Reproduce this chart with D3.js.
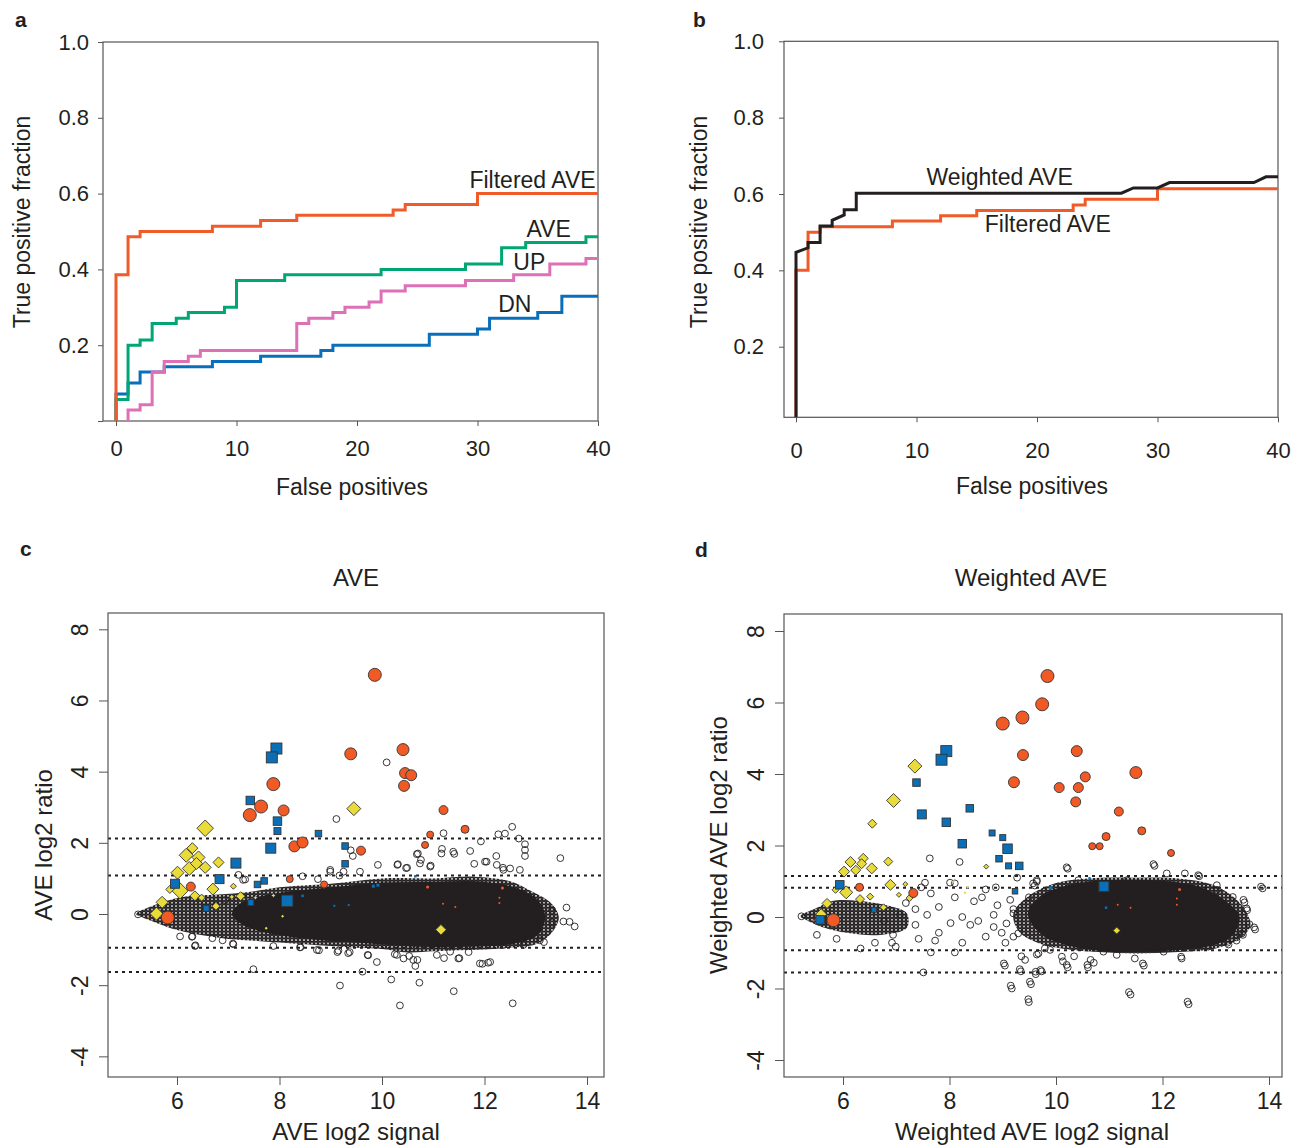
<!DOCTYPE html>
<html>
<head>
<meta charset="utf-8">
<script src="https://cdn.jsdelivr.net/npm/d3@7"></script>
<style>
  body { margin: 0; background: #fff; }
  svg text { font-family: "Liberation Sans", Arial, sans-serif; fill: #231f20; }
</style>
</head>
<body>
<div id="container"></div>
<script>
// ---- panel a: ROC steps (false positives vs true positive fraction)
var filtA_fp  = [0, 0, 1, 2, 8, 12, 15, 23, 24, 30, 40];
var filtA_tpf = [0, 0.386, 0.486, 0.500, 0.514, 0.529, 0.543, 0.557, 0.571, 0.600, 0.600];
var aveA_fp  = [0, 0, 1, 2, 3, 5, 6, 9, 10, 14, 22, 29, 32, 34, 39, 40];
var aveA_tpf = [0, 0.057, 0.200, 0.214, 0.257, 0.271, 0.286, 0.300, 0.371, 0.386, 0.400, 0.414, 0.457, 0.471, 0.486, 0.486];
var upA_fp  = [1, 1, 2, 3, 4, 6, 7, 15, 16, 18, 19, 21, 22, 24, 29, 33, 36, 39, 40];
var upA_tpf = [0, 0.029, 0.043, 0.129, 0.157, 0.171, 0.186, 0.257, 0.271, 0.286, 0.300, 0.314, 0.343, 0.357, 0.371, 0.386, 0.414, 0.429, 0.429];
var dnA_fp  = [0, 0, 1, 2, 4, 8, 12, 17, 18, 26, 30, 31, 35, 37, 40];
var dnA_tpf = [0, 0.071, 0.100, 0.129, 0.143, 0.157, 0.171, 0.186, 0.200, 0.229, 0.243, 0.271, 0.286, 0.329, 0.329];

// ---- panel b
var filtB_fp  = [0, 0, 1, 2, 8, 12, 15, 23, 24, 30, 40];
var filtB_tpf = [0.015, 0.400, 0.500, 0.514, 0.529, 0.543, 0.557, 0.571, 0.586, 0.614, 0.614];
var wAveB_fp  = [0, 0, 1, 1, 2, 2, 3, 3, 4, 4, 5, 5, 27, 28, 30, 31, 38, 39, 40];
var wAveB_tpf = [0.015, 0.447, 0.459, 0.473, 0.473, 0.516, 0.516, 0.531, 0.545, 0.559, 0.559, 0.602, 0.602, 0.616, 0.616, 0.630, 0.630, 0.645, 0.645];

var rocXTicks = [0, 10, 20, 30, 40];
var rocYTicksA = [0, 0.2, 0.4, 0.6, 0.8, 1.0];
var rocYTicksB = [0.2, 0.4, 0.6, 0.8, 1.0];
var maXTicks = [6, 8, 10, 12, 14];
var maYTicks = [-4, -2, 0, 2, 4, 6, 8];

// ---- panel c: AVE MA plot  [signal, log2 ratio, cex]
var cOrange = [[9.86,6.72,1.3],[9.39,4.50,1.2],[10.41,4.62,1.2],[10.45,3.96,1.1],[10.57,3.90,1.1],[10.43,3.60,1.1],
  [7.88,3.65,1.3],[7.64,3.02,1.3],[7.42,2.78,1.3],[8.08,2.91,1.1],[8.29,1.90,1.1],[8.45,2.01,1.1],[9.59,1.78,0.9],
  [11.20,2.92,0.9],[11.62,2.38,0.8],[10.94,2.23,0.7],[10.84,1.94,0.7],[8.20,0.98,0.7],[8.87,0.83,0.7],[6.27,0.77,0.9],
  [5.82,-0.10,1.3],[11.19,0.29,0.2],[11.43,0.20,0.2],[12.29,0.31,0.2],[12.29,0.46,0.2],[12.35,0.73,0.3],[10.89,0.76,0.3],[5.44,-0.10,0.2]];
var cBlue = [[7.94,4.65,1.1],[7.85,4.40,1.1],[7.43,3.19,0.85],[7.96,2.61,0.85],[7.96,2.33,0.7],[7.83,1.85,1.0],
  [8.76,2.26,0.65],[9.28,1.91,0.65],[9.28,1.41,0.65],[7.15,1.43,1.0],[6.83,0.98,0.9],[5.96,0.85,0.9],[7.70,0.93,0.65],
  [7.57,0.83,0.65],[8.15,0.37,1.15],[7.44,0.32,0.6],[6.57,0.16,0.6],
  [8.45,0.51,0.25],[9.07,0.23,0.2],[9.35,0.25,0.2],[9.83,0.78,0.3],[9.92,0.81,0.3],[10.65,1.06,0.25]];
var cYellow = [[6.55,2.41,1.65],[9.45,2.96,1.4],[6.30,1.85,1.1],[6.18,1.65,1.4],[6.42,1.59,1.3],[6.24,1.28,1.4],
  [6.38,1.42,1.2],[6.55,1.31,1.2],[6.81,1.45,1.1],[6.01,1.16,1.3],[6.06,0.65,1.6],[6.70,0.70,1.2],[5.86,0.69,0.8],
  [6.35,0.51,1.0],[6.48,0.46,0.7],[5.71,0.33,1.2],[5.60,0.01,1.3],[6.76,0.22,0.8],[7.10,0.78,0.6],[7.24,0.50,0.9],
  [7.07,0.48,0.5],[7.53,0.46,0.4],[7.88,0.52,0.4],[11.15,-0.44,1.05],[8.06,-0.06,0.3],[7.74,-0.40,0.3]];
var cOpen = [[10.09,4.26],[9.11,2.67],[11.20,2.27],[12.54,2.45],[12.40,2.26],[12.27,2.24],[12.67,2.12],[11.93,2.04],
  [12.79,1.96],[12.79,1.80],[12.79,1.63],[13.48,1.57],[9.39,1.79],[9.43,1.63],[10.70,1.70],[10.76,1.52],[11.17,1.83],
  [11.41,1.69],[11.72,1.77],[12.23,1.63],[11.80,1.41],[9.92,1.38],[10.30,1.38],[10.49,1.30],[10.95,1.36],[12.04,1.47],
  [12.36,1.30],[8.99,1.19],[9.17,1.08],[7.20,1.10],[7.33,0.97],[8.45,1.06],[9.57,1.19],[7.49,-1.55],[9.62,-1.62],
  [9.18,-2.01],[10.18,-1.84],[10.73,-1.93],[11.40,-2.17],[10.35,-2.57],[12.55,-2.51],[9.90,-1.35],[9.73,-1.16],
  [11.96,-1.40],[12.11,-1.35],[10.65,-1.46],[10.69,-1.29],[10.53,-1.18],[10.25,-1.13],[11.21,-1.24],[11.51,-1.24],
  [11.69,-1.07],[8.77,-1.02],[9.13,-1.07],[9.37,-1.07],[8.41,-0.93],[7.09,-0.83],[6.36,-0.88],[6.06,-0.63],[6.30,-0.63],
  [6.69,-0.68],[6.89,-0.74],[13.60,0.18],[13.32,-0.24],[13.54,-0.21],[13.66,-0.22],[13.76,-0.35],[13.32,0.11],
  [13.08,-0.74],[13.16,-0.79],[10.31,1.40],[10.47,1.29],[8.75,0.98],[9.25,1.19],[10.68,1.68],[10.74,1.42],[10.94,1.33],
  [11.16,1.70],[11.39,1.75],[12.01,1.47],[12.24,1.38],[12.37,1.24],[12.50,1.28],[12.69,1.24],[7.88,-0.90],[8.40,-0.94],
  [8.73,-1.01],[9.15,-1.03],[9.34,-1.10],[9.72,-1.15],[10.29,-1.15],[10.42,-1.25],[10.61,-1.29],[11.07,-1.15],
  [11.33,-1.06],[11.49,-1.25],[11.91,-1.39],[12.07,-1.37],[12.37,-0.87],[12.76,-0.87],[5.24,-0.01],[6.29,-0.64],
  [6.35,-0.90],[7.10,-0.85],[7.29,0.96],[6.94,0.39],[8.99,1.24]];
// outline of the dense cloud (overlapping circles) and its solid core
var cCloud = [[5.2,0.0],[5.5,0.22],[6.1,0.48],[6.8,0.55],[7.4,0.62],[8.0,0.75],[9.0,0.85],[10.0,1.0],[11.0,1.0],
  [11.8,1.05],[12.5,0.92],[12.9,0.65],[13.3,0.3],[13.45,-0.1],[13.3,-0.55],[13.0,-0.85],[12.5,-0.95],[12.0,-1.0],
  [11.5,-1.02],[11.0,-1.05],[10.5,-1.08],[10.0,-0.98],[9.5,-0.95],[9.0,-0.9],[8.5,-0.85],[8.0,-0.8],[7.5,-0.75],
  [7.0,-0.7],[6.5,-0.6],[6.0,-0.45],[5.6,-0.25],[5.3,-0.08]];
var cCore = [[7.3,0.3],[8.0,0.55],[9.0,0.7],[10.0,0.84],[11.0,0.86],[11.8,0.88],[12.5,0.74],[12.95,0.45],[13.15,0.0],
  [13.05,-0.52],[12.6,-0.78],[11.7,-0.88],[10.7,-0.88],[9.7,-0.78],[8.7,-0.68],[7.8,-0.5],[7.3,-0.27],[7.1,0.0]];
var cCutoffs = [2.12, 1.08, -0.95, -1.63];

// ---- panel d: Weighted AVE MA plot
var dOrange = [[9.84,6.74,1.3],[9.74,5.95,1.3],[9.37,5.58,1.3],[9.00,5.41,1.3],[9.38,4.53,1.1],[10.39,4.64,1.1],
  [9.21,3.77,1.1],[10.06,3.62,1.0],[10.42,3.62,1.0],[10.55,3.92,1.0],[10.37,3.22,1.0],[11.50,4.04,1.2],[11.18,2.95,0.9],
  [11.61,2.41,0.8],[10.94,2.25,0.8],[10.68,1.98,0.7],[10.82,1.98,0.7],[12.16,1.79,0.7],[6.31,0.83,0.8],[7.32,0.67,0.9],
  [5.82,-0.09,1.3],[11.16,0.34,0.2],[11.40,0.26,0.2],[12.27,0.34,0.2],[12.27,0.52,0.2],[12.32,0.77,0.3],[5.45,-0.10,0.2]];
var dBlue = [[7.94,4.64,1.1],[7.85,4.40,1.1],[7.38,3.76,0.75],[7.48,2.87,0.9],[7.94,2.65,0.85],[8.38,3.04,0.75],
  [8.24,2.05,0.85],[8.80,2.35,0.6],[9.00,2.22,0.6],[9.09,1.91,0.95],[8.93,1.63,0.65],[9.11,1.43,0.6],[9.31,1.43,0.75],
  [5.94,0.90,0.85],[9.23,0.72,0.55],[6.58,0.20,0.5],[5.57,-0.08,0.85],[10.90,0.85,1.0],
  [9.90,0.81,0.35],[10.63,1.08,0.25],[10.94,0.26,0.25]];
var dYellow = [[7.35,4.22,1.4],[6.95,3.26,1.4],[6.55,2.61,0.9],[6.14,1.54,1.1],[6.38,1.64,1.0],[6.35,1.49,1.0],
  [6.24,1.31,1.0],[6.02,1.27,1.1],[6.54,1.36,1.1],[6.85,1.55,0.9],[6.06,0.69,1.3],[6.89,0.90,1.1],[5.86,0.76,0.7],
  [6.32,0.50,0.9],[6.51,0.57,0.7],[5.70,0.38,1.0],[5.59,0.08,1.1],[6.76,0.27,0.7],[7.17,0.92,0.5],[7.05,0.62,0.5],
  [7.25,0.53,0.7],[8.69,1.41,0.5],[8.07,0.99,0.3],[8.29,0.68,0.3],[8.34,0.83,0.3],[11.14,-0.38,0.7]];
var dOpen = [[7.63,1.64],[8.19,1.54],[10.22,1.35],[11.85,1.43],[12.69,1.14],[13.88,0.80],[13.54,0.41],[13.59,0.19],
  [13.32,0.56],[13.63,-0.20],[13.74,-0.35],[13.51,-0.50],[13.39,-0.66],[13.24,-0.77],[7.51,-1.55],[9.04,-1.36],
  [9.17,-2.00],[9.49,-2.38],[9.53,-1.88],[9.34,-1.52],[9.62,-1.60],[9.73,-1.52],[10.22,-1.41],[10.60,-1.41],
  [11.40,-2.17],[12.49,-2.44],[11.65,-1.36],[12.36,-1.16],[10.71,-1.28],[10.13,-1.24],[10.34,-1.10],[9.35,-1.10],
  [9.64,-1.05],[9.79,-0.88],[7.65,-0.99],[8.10,-0.99],[6.99,-0.83],[6.33,-0.88],[5.51,-0.50],[5.88,-0.61],[6.60,-0.72],
  [6.92,-0.72],[6.94,-0.50],[9.20,-0.55],[8.98,-0.44],[8.68,-0.55],[8.24,-0.72],[7.42,-0.61],[7.36,-0.22],[7.80,-0.44],
  [8.02,-0.17],[8.24,0.0],[8.54,-0.11],[8.83,0.06],[8.10,0.94],[8.01,0.96],[7.54,0.96],[7.47,0.83],[7.65,0.66],
  [8.10,0.55],[8.46,0.44],[8.68,0.77],[8.87,0.83],[9.27,1.10],[9.60,0.88],[9.64,0.99],[9.49,0.55],[8.90,0.33],
  [8.61,0.55],[7.80,0.28],[7.36,0.22],[7.07,0.06],[6.77,-0.11],[7.18,0.39],[7.58,0.06],[8.39,-0.22],[8.83,-0.28],
  [9.20,0.22],[7.73,-0.66],[9.05,-0.72],[10.20,1.39],[11.83,1.48],[13.85,0.85],[13.02,0.89],[13.52,0.48],[13.58,0.24],
  [13.72,-0.29],[13.49,-0.46],[13.39,-0.57],[13.22,-0.72],[12.35,-1.11],[11.63,-1.30],[11.37,-2.10],[12.47,-2.37],
  [10.59,-1.34],[10.65,-1.20],[10.20,-1.34],[9.71,-1.48],[9.62,-1.53],[9.51,-1.81],[9.48,-2.30],[9.15,-1.92],
  [9.32,-1.46],[9.02,-1.30],[9.42,-1.20],[9.67,-1.02],[9.89,-0.92],[10.11,-1.11],[10.89,-0.97],[11.14,-1.06],
  [11.48,-1.16],[12.02,-0.97],[12.86,-0.83],[13.02,-0.64],[9.14,0.48],[9.20,0.10],[9.07,-0.18],[9.29,-0.46],
  [9.57,0.94],[9.64,1.03],[10.42,1.03],[11.33,1.03],[12.08,1.22],[12.42,1.22],[12.67,1.17],[13.02,0.76],[5.22,0.02]];
var dCloud = [[9.2,0.1],[9.5,0.6],[10.0,0.95],[10.6,1.08],[11.5,1.1],[12.3,1.08],[12.9,0.92],[13.3,0.6],[13.55,0.2],
  [13.65,-0.25],[13.45,-0.6],[13.0,-0.88],[12.3,-0.98],[11.5,-1.02],[10.8,-0.98],[10.2,-0.9],[9.7,-0.75],[9.3,-0.4]];
var dTail = [[5.2,0.02],[5.5,0.25],[5.8,0.45],[6.3,0.45],[6.9,0.3],[7.2,0.1],[7.2,-0.3],[6.7,-0.5],[6.1,-0.45],
  [5.6,-0.28],[5.3,-0.08]];
var dCore = [[9.5,0.1],[9.75,0.58],[10.2,0.84],[10.8,0.98],[11.5,1.0],[12.1,0.96],[12.7,0.8],[13.15,0.44],
  [13.42,0.0],[13.27,-0.52],[12.8,-0.8],[12.1,-0.9],[11.4,-0.94],[10.8,-0.9],[10.2,-0.74],[9.75,-0.47]];
var dCutoffs = [1.15, 0.82, -0.93, -1.55];

var ink = '#231f20', frame = '#555';
var colOrange = '#f15a24', colBlue = '#0b6fb8', colYellow = '#e9dc3a';

var svg = d3.select('#container').append('svg')
  .attr('width', 1293).attr('height', 1146);

// texture for the overlapping open circles of the cloud
var mesh = svg.append('defs').append('pattern')
  .attr('id', 'mesh').attr('patternUnits', 'userSpaceOnUse')
  .attr('width', 4).attr('height', 3.4);
[[0,0],[4,0],[0,3.4],[4,3.4],[2,1.7]].forEach(function(p) {
  mesh.append('circle').attr('cx', p[0]).attr('cy', p[1]).attr('r', 3)
    .attr('fill', 'none').attr('stroke', ink).attr('stroke-width', 1.1);
});

function label(txt, x, y, size, opts) {
  opts = opts || {};
  var t = svg.append('text').text(txt)
    .attr('font-size', size)
    .attr('text-anchor', opts.anchor || 'middle')
    .attr('font-weight', opts.bold ? 'bold' : null);
  if (opts.rotate) t.attr('transform', 'translate(' + x + ',' + y + ') rotate(-90)');
  else t.attr('x', x).attr('y', y);
  if (opts.central) t.attr('dy', '0.35em');
  return t;
}

function styleAxis(g, size) {
  g.attr('font-size', size).attr('font-family', null).attr('color', frame);
  g.select('.domain').remove();
  g.selectAll('text').style('fill', ink);
}

function rocPanel(cfg) {
  var x = d3.scaleLinear().domain([0, 40]).range(cfg.xRange),
      y = d3.scaleLinear().domain(cfg.yDomain).range(cfg.yRange),
      b = cfg.box,
      g = svg.append('g');

  g.append('rect')
    .attr('x', b[0]).attr('y', b[1]).attr('width', b[2] - b[0]).attr('height', b[3] - b[1])
    .attr('fill', 'none').attr('stroke', frame).attr('stroke-width', 1.2);

  cfg.series.forEach(function(s) {
    var line = d3.line()
      .x(function(d) { return x(d[0]); })
      .y(function(d) { return y(d[1]); })
      .curve(s.step ? d3.curveStepAfter : d3.curveLinear);
    g.append('path').datum(d3.zip(s.fp, s.tpf))
      .attr('d', line).attr('fill', 'none')
      .attr('stroke', s.color).attr('stroke-width', 3);
  });

  g.append('g').attr('transform', 'translate(0,' + b[3] + ')')
    .call(d3.axisBottom(x).tickValues(rocXTicks).tickSize(5).tickFormat(String))
    .call(styleAxis, 22)
    .call(function(a) { a.selectAll('text').attr('y', cfg.xLabOff).attr('dy', '0.35em'); });

  g.append('g').attr('transform', 'translate(' + b[0] + ',0)')
    .call(d3.axisLeft(y).tickValues(cfg.yTicks).tickSize(5).tickPadding(cfg.yPad)
      .tickFormat(function(d) { return d === 0 ? '' : d3.format('.1f')(d); }))
    .call(styleAxis, 22);

  cfg.notes.forEach(function(n) {
    label(n.text, x(n.at[0]), y(n.at[1]), 23, {anchor: n.anchor, central: true});
  });
}

rocPanel({
  xRange: [116, 598], yDomain: [0, 1], yRange: [421, 42], box: [103, 42, 598, 421],
  yTicks: rocYTicksA, yPad: 9, xLabOff: 27,
  series: [
    {fp: dnA_fp, tpf: dnA_tpf, color: '#0a6fba', step: true},
    {fp: upA_fp, tpf: upA_tpf, color: '#de70b6', step: true},
    {fp: aveA_fp, tpf: aveA_tpf, color: '#00a673', step: true},
    {fp: filtA_fp, tpf: filtA_tpf, color: '#f15a29', step: true}
  ],
  notes: [
    {text: 'Filtered AVE', at: [39.8, 0.636], anchor: 'end'},
    {text: 'AVE', at: [35.9, 0.507]},
    {text: 'UP', at: [34.3, 0.420]},
    {text: 'DN', at: [33.1, 0.309]}
  ]
});

rocPanel({
  xRange: [796, 1278], yDomain: [0.2, 1], yRange: [346.7, 41.3], box: [784, 41.3, 1278, 417.3],
  yTicks: rocYTicksB, yPad: 15, xLabOff: 33,
  series: [
    {fp: filtB_fp, tpf: filtB_tpf, color: '#f15a29', step: true},
    {fp: wAveB_fp, tpf: wAveB_tpf, color: ink, step: false}
  ],
  notes: [
    {text: 'Weighted AVE', at: [16.9, 0.6445]},
    {text: 'Filtered AVE', at: [20.9, 0.5214]}
  ]
});

function maPanel(cfg) {
  var x = d3.scaleLinear().domain([6, 14]).range(cfg.xRange),
      y = d3.scaleLinear().domain([0, 8]).range(cfg.yRange),
      size = d3.scaleLinear().domain([0, 1]).range([0, 5]),
      b = cfg.box,
      g = svg.append('g');

  var blob = d3.line()
    .x(function(d) { return x(d[0]); })
    .y(function(d) { return y(d[1]); })
    .curve(d3.curveCatmullRomClosed);

  cfg.clouds.forEach(function(c) {
    g.append('path').attr('d', blob(c)).attr('fill', 'url(#mesh)');
  });
  g.append('path').attr('d', blob(cfg.core)).attr('fill', ink)
    .attr('stroke', ink).attr('stroke-width', 3).attr('stroke-linejoin', 'round');

  g.selectAll('circle.open').data(cfg.open).enter().append('circle')
    .attr('class', 'open')
    .attr('cx', function(d) { return x(d[0]); })
    .attr('cy', function(d) { return y(d[1]); })
    .attr('r', 3.4).attr('fill', 'none').attr('stroke', ink).attr('stroke-width', 0.9);

  g.selectAll('line.cut').data(cfg.cutoffs).enter().append('line')
    .attr('class', 'cut')
    .attr('x1', b[0]).attr('x2', b[2])
    .attr('y1', function(d) { return y(d); }).attr('y2', function(d) { return y(d); })
    .attr('stroke', ink).attr('stroke-width', 2).attr('stroke-dasharray', '3,4');

  function edge(d) { return d[2] < 0.4 ? 'none' : '#333'; }

  g.selectAll('path.dn').data(cfg.yellow).enter().append('path')
    .attr('class', 'dn')
    .attr('transform', function(d) { return 'translate(' + x(d[0]) + ',' + y(d[1]) + ')'; })
    .attr('d', function(d) { var h = size(d[2]); return 'M0,' + (-h) + 'L' + h + ',0L0,' + h + 'L' + (-h) + ',0Z'; })
    .attr('fill', colYellow).attr('stroke', edge).attr('stroke-width', 0.9);

  g.selectAll('rect.up').data(cfg.blue).enter().append('rect')
    .attr('class', 'up')
    .attr('x', function(d) { return x(d[0]) - size(d[2]); })
    .attr('y', function(d) { return y(d[1]) - size(d[2]); })
    .attr('width', function(d) { return 2 * size(d[2]); })
    .attr('height', function(d) { return 2 * size(d[2]); })
    .attr('fill', colBlue).attr('stroke', edge).attr('stroke-width', 0.9);

  g.selectAll('circle.hit').data(cfg.orange).enter().append('circle')
    .attr('class', 'hit')
    .attr('cx', function(d) { return x(d[0]); })
    .attr('cy', function(d) { return y(d[1]); })
    .attr('r', function(d) { return size(d[2]); })
    .attr('fill', colOrange).attr('stroke', edge).attr('stroke-width', 0.9);

  g.append('rect')
    .attr('x', b[0]).attr('y', b[1]).attr('width', b[2] - b[0]).attr('height', b[3] - b[1])
    .attr('fill', 'none').attr('stroke', frame).attr('stroke-width', 1.2);

  g.append('g').attr('transform', 'translate(0,' + b[3] + ')')
    .call(d3.axisBottom(x).tickValues(maXTicks).tickSize(8).tickFormat(String))
    .call(styleAxis, 23)
    .call(function(a) { a.selectAll('text').attr('y', 24).attr('dy', '0.35em'); });

  g.append('g').attr('transform', 'translate(' + b[0] + ',0)')
    .call(d3.axisLeft(y).tickValues(maYTicks).tickSize(9).tickFormat(String))
    .call(styleAxis, 23)
    .call(function(a) {
      a.selectAll('text').attr('x', null).attr('dy', null)
        .attr('text-anchor', 'middle').attr('transform', 'translate(-20,0) rotate(-90)');
    });
}

maPanel({
  xRange: [177, 587], yRange: [914, 629.3], box: [108, 613, 604, 1077],
  clouds: [cCloud], core: cCore, open: cOpen, cutoffs: cCutoffs,
  orange: cOrange, blue: cBlue, yellow: cYellow
});

maPanel({
  xRange: [843, 1269], yRange: [917, 631], box: [784, 614, 1282, 1077],
  clouds: [dCloud, dTail], core: dCore, open: dOpen, cutoffs: dCutoffs,
  orange: dOrange, blue: dBlue, yellow: dYellow
});

// titles and axis names
label('a', 15, 27, 21, {anchor: 'start', bold: true});
label('b', 693, 27, 21, {anchor: 'start', bold: true});
label('c', 20, 556, 21, {anchor: 'start', bold: true});
label('d', 695, 557, 21, {anchor: 'start', bold: true});

label('True positive fraction', 30, 222, 23, {rotate: true});
label('True positive fraction', 707, 222, 23, {rotate: true});
label('False positives', 352, 495, 23);
label('False positives', 1032, 494, 23);

label('AVE', 356, 586, 24);
label('Weighted AVE', 1031, 586, 24);
label('AVE log2 ratio', 52, 845, 24, {rotate: true});
label('Weighted AVE log2 ratio', 727, 845, 24, {rotate: true});
label('AVE log2 signal', 356, 1140, 24);
label('Weighted AVE log2 signal', 1032, 1140, 24);
</script>
</body>
</html>
